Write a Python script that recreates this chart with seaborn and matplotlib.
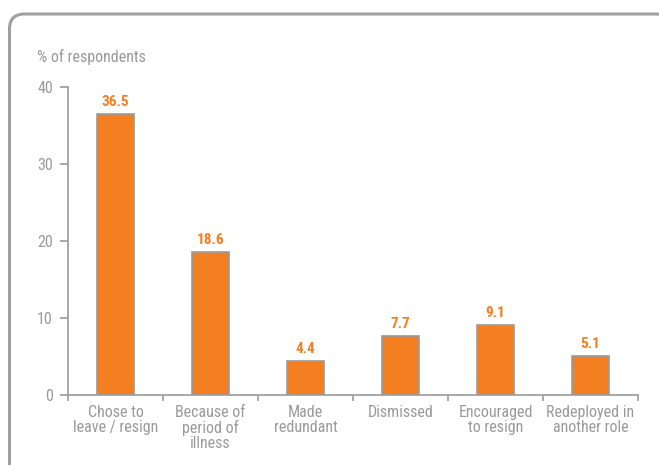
import matplotlib
matplotlib.use("Agg")
import matplotlib.pyplot as plt
from matplotlib.patches import FancyBboxPatch
from matplotlib import font_manager
import seaborn as sns
import pandas as pd
import numpy as np

categories = [
    "Chose to\nleave / resign",
    "Because of\nperiod of\nillness",
    "Made\nredundant",
    "Dismissed",
    "Encouraged\nto resign",
    "Redeployed in\nanother role",
]
values = [36.5, 18.6, 4.4, 7.7, 9.1, 5.1]
y_ticks = [0, 10, 20, 30, 40]

ORANGE = "#F47F20"
GREY = "#9B9B9B"
TEXT = "#9A9A9A"
FS = 11.5

sns.set_theme(style="white")
installed = {f.name for f in font_manager.fontManager.ttflist}
family = [f for f in ["Liberation Sans Narrow", "Roboto Condensed", "Liberation Sans", "DejaVu Sans"] if f in installed]
plt.rcParams["font.family"] = family

W, H = 659, 465
PX = 72 / 100  # points per pixel
fig = plt.figure(figsize=(W / 100, H / 100), dpi=100)

# full-figure overlay in pixel units for the rounded panel frame
bg = fig.add_axes([0, 0, 1, 1], zorder=-1)
bg.set_xlim(0, W)
bg.set_ylim(H, 0)
bg.axis("off")
frame = FancyBboxPatch((9.5, 14), 661, 500,
                       boxstyle="round,pad=0,rounding_size=15",
                       fill=False, edgecolor="#A0A0A0", linewidth=2.2,
                       clip_on=True)
bg.add_patch(frame)

ax = fig.add_axes([68 / W, 70 / H, (638 - 68) / W, (395 - 87) / H])
ax.patch.set_alpha(0)

df = pd.DataFrame({"category": categories, "value": values})
sns.barplot(data=df, x="category", y="value", color=ORANGE, edgecolor=GREY,
            linewidth=1.2, width=0.39, saturation=1, ax=ax)

ax.set_xlim(-0.5, len(categories) - 0.5)
ax.set_ylim(0, 40)
ax.set_xlabel("")
ax.set_ylabel("")

for s in ["top", "right"]:
    ax.spines[s].set_visible(False)
for s in ["left", "bottom"]:
    ax.spines[s].set_color(GREY)
    ax.spines[s].set_linewidth(1.2)

# y axis
ax.set_yticks(y_ticks)
ax.tick_params(axis="y", direction="out", length=8 * PX, width=1.2, color=GREY,
               labelcolor=TEXT, labelsize=FS, pad=7 * PX, left=True)

# x axis: ticks on category boundaries, labels at centres
ax.set_xticks(np.arange(len(categories) + 1) - 0.5)
ax.set_xticklabels([])
ax.set_xticks(np.arange(len(categories)), minor=True)
ax.set_xticklabels(categories, minor=True, color=TEXT, fontsize=FS,
                   linespacing=1.0)
ax.tick_params(axis="x", which="major", direction="out", length=6 * PX, width=1.2,
               color=GREY, bottom=True)
ax.tick_params(axis="x", which="minor", length=0, pad=10 * PX, bottom=True)

# value labels
for i, v in enumerate(values):
    ax.annotate(f"{v}", (i, v), xytext=(0, 5 * PX), textcoords="offset points",
                ha="center", va="bottom", color=ORANGE, fontsize=11,
                fontweight="bold")

fig.text(37 / W, 1 - 57 / H, "% of respondents", color=TEXT, fontsize=FS,
         ha="left", va="center")

fig.savefig("out.png", dpi=100)
